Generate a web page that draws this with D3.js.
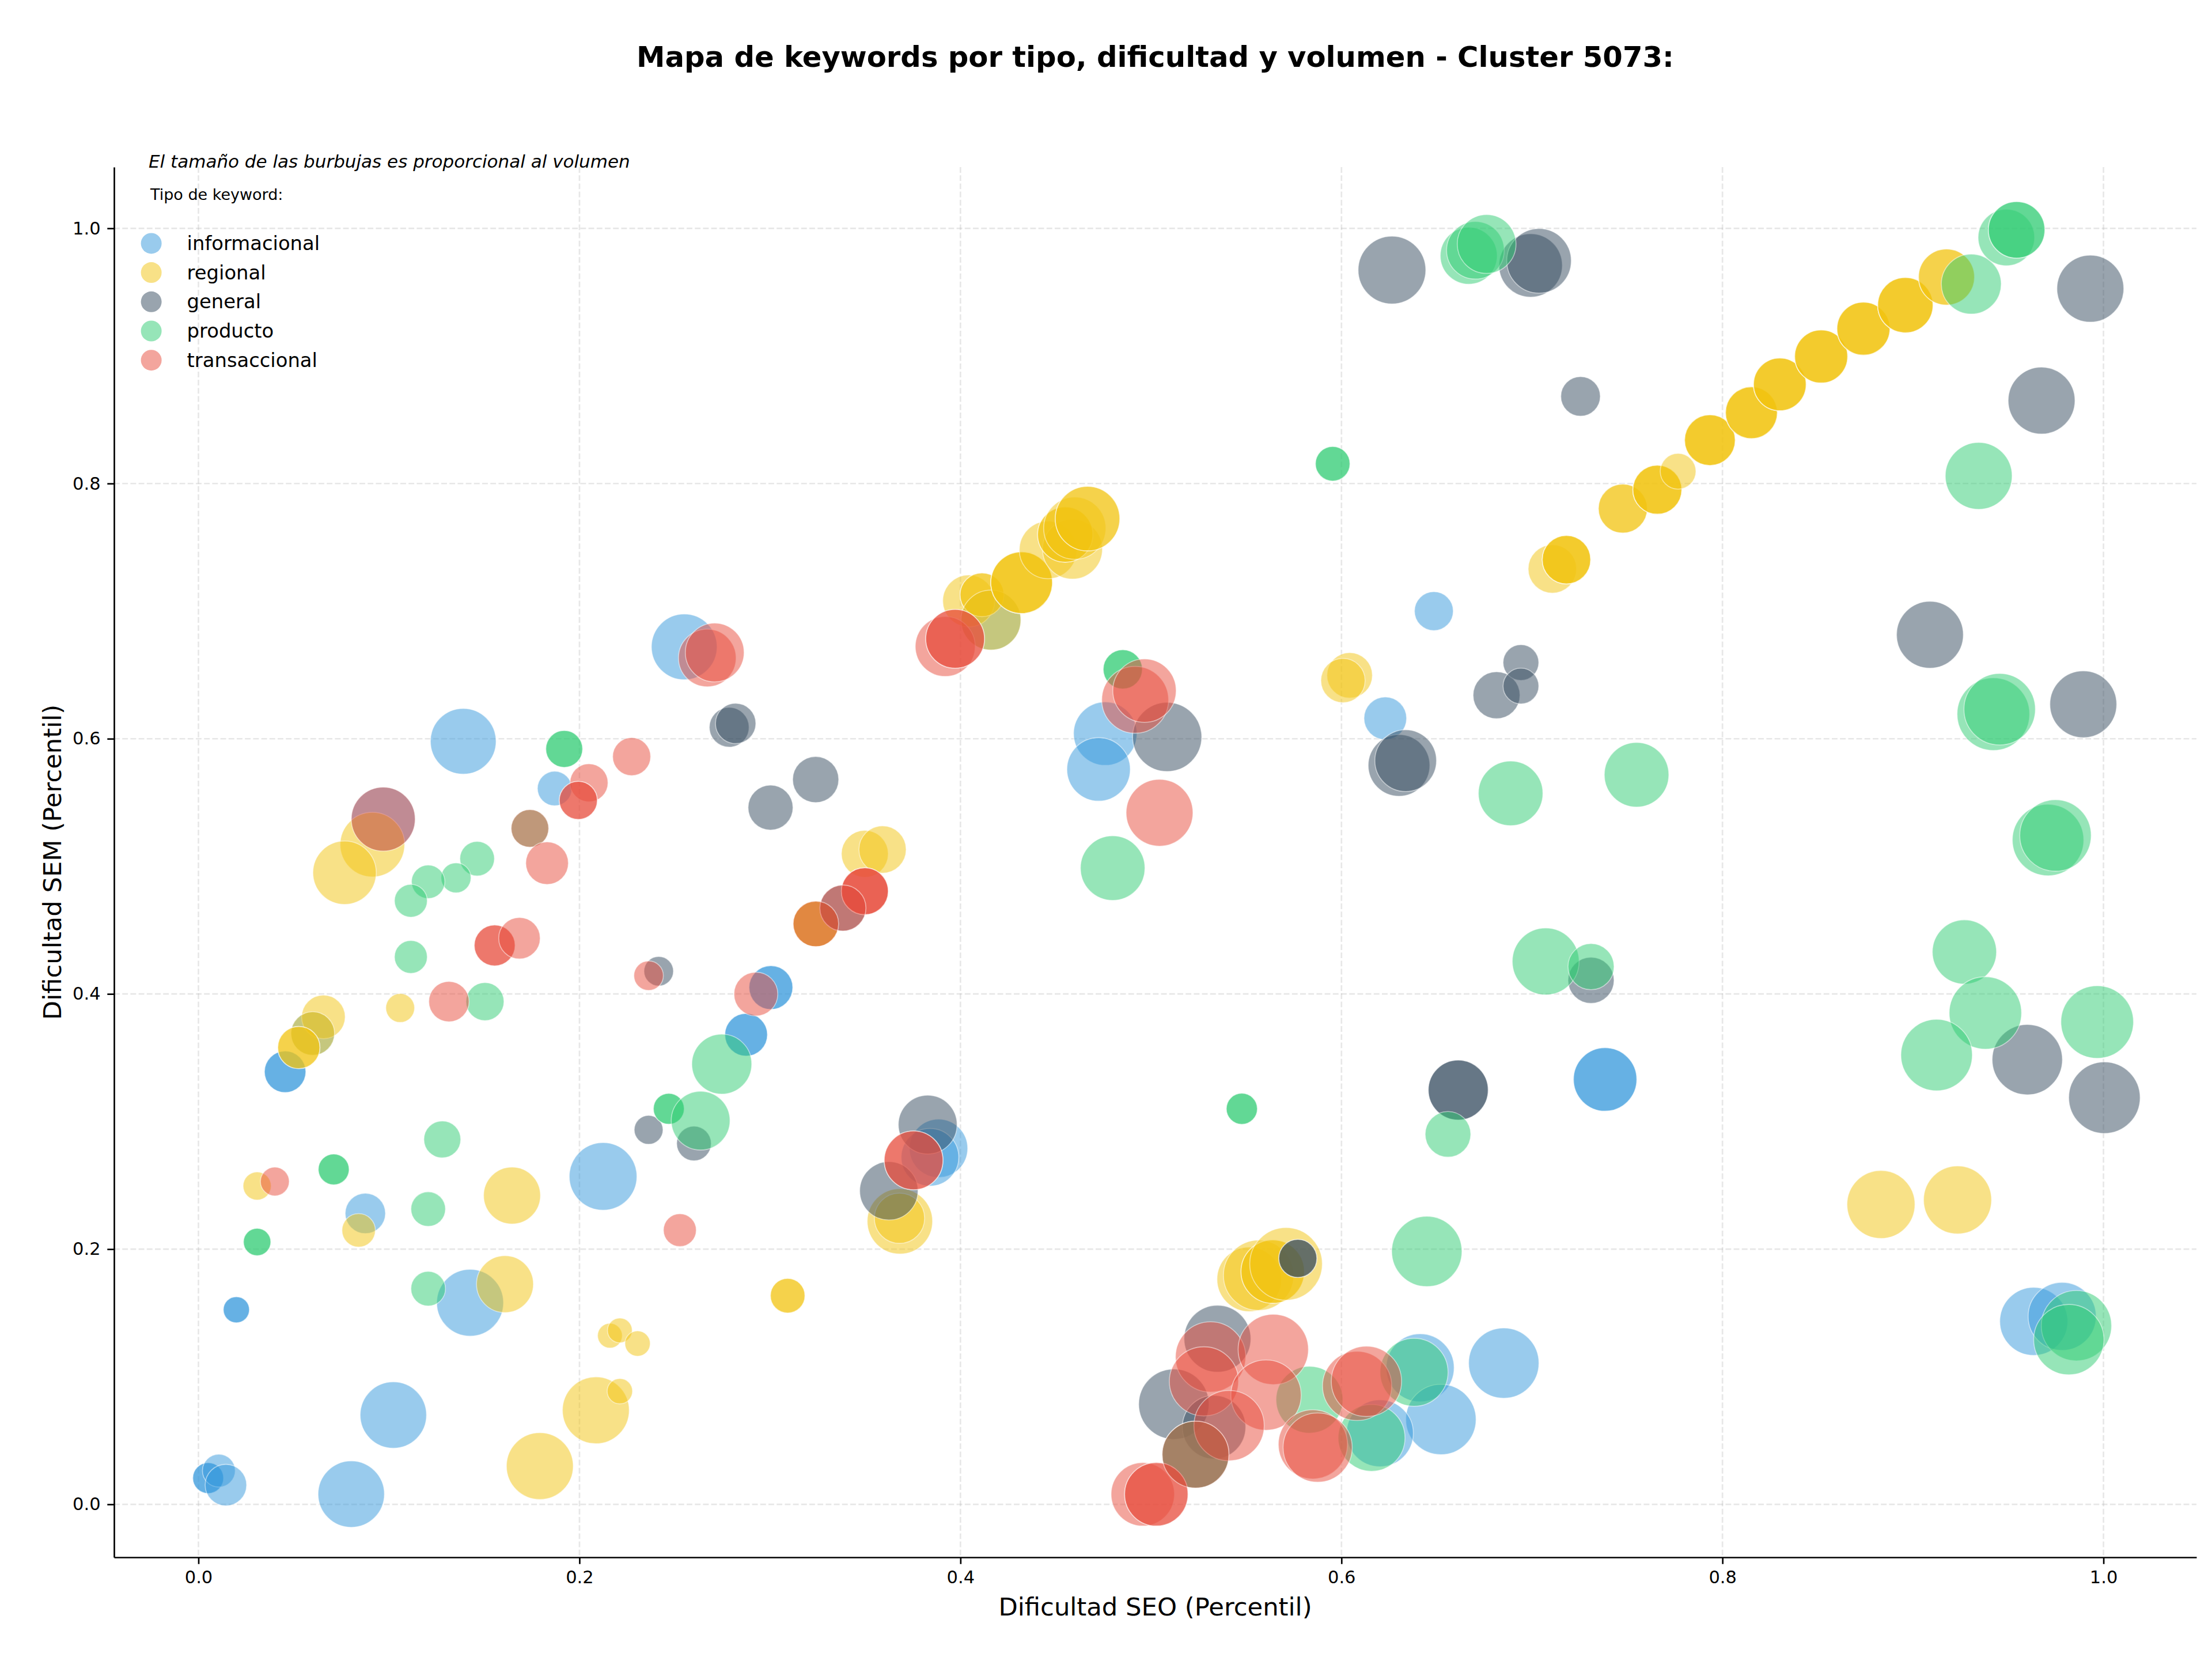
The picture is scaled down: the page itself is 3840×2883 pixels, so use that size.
<!DOCTYPE html>
<html>
<head>
<meta charset="utf-8">
<script src="https://cdn.jsdelivr.net/npm/d3@7"></script>
<style>
body { margin: 0; background: #fff; }
text { font-family: "DejaVu Sans", sans-serif; }
</style>
</head>
<body>
<svg width="3840" height="2883"></svg>
<script>
var tipos = ["informacional", "regional", "general", "producto", "transaccional"];
var colores = ["#3498db", "#f1c40f", "#34495e", "#2ecc71", "#e74c3c"];
var ticks = [0, 0.2, 0.4, 0.6, 0.8, 1.0];

// [dificultad SEO, dificultad SEM, volumen, repeticiones]
var informacional = [
  [0.139, 0.598, 3249, 1], [0.187, 0.561, 900, 1], [0.097, 0.537, 3080, 1], [0.060, 0.369, 1444, 1],
  [0.0455, 0.339, 1296, 2], [0.0876, 0.228, 1225, 1], [0.2124, 0.257, 3446, 1], [0.0199, 0.1525, 515, 2],
  [0.1426, 0.158, 3364, 1], [0.1023, 0.070, 3318, 1], [0.0802, 0.008, 3318, 1], [0.0051, 0.0206, 718, 2],
  [0.0107, 0.0264, 812, 1], [0.0144, 0.0151, 1296, 1], [0.255, 0.672, 3249, 1], [0.3005, 0.405, 1444, 2],
  [0.2875, 0.368, 1369, 2], [0.3885, 0.279, 2560, 1], [0.384, 0.272, 2500, 1], [0.416, 0.693, 2704, 1],
  [0.3241, 0.4549, 1560, 1],
  [0.476, 0.604, 3025, 1], [0.4725, 0.576, 3025, 1], [0.6485, 0.700, 1136, 1], [0.623, 0.616, 1369, 1],
  [0.7384, 0.333, 3025, 2], [0.6413, 0.107, 3481, 1], [0.6522, 0.0665, 3721, 1], [0.6852, 0.1107, 3721, 1],
  [0.6202, 0.0557, 3364, 1], [0.9634, 0.1434, 3481, 1], [0.9783, 0.1473, 3481, 1]
];
var regional = [
  [0.0913, 0.517, 3136, 1], [0.0767, 0.495, 3025, 1], [0.1059, 0.389, 625, 1], [0.0656, 0.382, 1429, 1],
  [0.060, 0.369, 1429, 1], [0.0527, 0.358, 1340, 2], [0.0308, 0.2495, 595, 1], [0.0841, 0.2147, 841, 1],
  [0.1646, 0.242, 2440, 1], [0.1609, 0.1726, 2440, 1], [0.1792, 0.030, 3364, 1], [0.2086, 0.0737, 3364, 1],
  [0.2212, 0.0887, 484, 1], [0.216, 0.1322, 462, 1], [0.2212, 0.1363, 462, 1], [0.2305, 0.126, 484, 1],
  [0.3093, 0.1635, 900, 2], [0.3498, 0.5098, 1656, 1], [0.3591, 0.5132, 1681, 1], [0.3241, 0.4549, 1560, 2],
  [0.3682, 0.2218, 3215, 1], [0.368, 0.2242, 1901, 1], [0.4043, 0.708, 2025, 1], [0.4113, 0.7128, 1444, 2],
  [0.416, 0.693, 2704, 1], [0.4321, 0.7223, 2862, 3], [0.446, 0.748, 2500, 1], [0.4588, 0.7486, 2704, 1],
  [0.455, 0.760, 2304, 2], [0.460, 0.765, 2916, 1], [0.4667, 0.7725, 3136, 2], [0.5516, 0.1764, 3136, 1],
  [0.5565, 0.1795, 3721, 1], [0.5639, 0.1824, 3025, 2], [0.5709, 0.1884, 3969, 1], [0.6043, 0.6497, 1560, 1],
  [0.6008, 0.6456, 1475, 1], [0.7107, 0.7331, 1764, 1], [0.7181, 0.7403, 1764, 3], [0.7477, 0.7804, 1806, 2],
  [0.7658, 0.7952, 1806, 3], [0.7767, 0.8096, 961, 1], [0.7934, 0.834, 1936, 3], [0.8152, 0.8555, 2025, 3],
  [0.8301, 0.8777, 2088, 3], [0.8518, 0.8996, 2116, 3], [0.874, 0.9214, 2116, 3], [0.896, 0.9398, 2304, 3],
  [0.9176, 0.9618, 2362, 2], [0.8832, 0.235, 3481, 1], [0.9234, 0.2386, 3481, 1]
];
var general = [
  [0.2786, 0.609, 1190, 1], [0.282, 0.612, 1225, 1], [0.324, 0.568, 1600, 1], [0.3003, 0.546, 1521, 1],
  [0.3383, 0.4673, 1600, 1], [0.2416, 0.4178, 655, 1], [0.2363, 0.2935, 625, 1], [0.2601, 0.2828, 900, 1],
  [0.3828, 0.2976, 2601, 1], [0.3624, 0.2457, 2560, 1], [0.5085, 0.6014, 3600, 1], [0.5771, 0.1927, 1089, 2],
  [0.5349, 0.1298, 3364, 1], [0.512, 0.0785, 3721, 1], [0.5331, 0.0605, 3025, 1], [0.5234, 0.039, 3364, 1],
  [0.6265, 0.9673, 3446, 1], [0.6993, 0.9709, 3025, 1], [0.7037, 0.9745, 3136, 1], [0.7255, 0.8683, 1176, 1],
  [0.6302, 0.5791, 2862, 1], [0.6337, 0.5828, 2862, 1], [0.6814, 0.6341, 1656, 1], [0.6942, 0.6597, 961, 1],
  [0.6942, 0.6413, 961, 1], [0.731, 0.4107, 1600, 1], [0.6613, 0.3247, 2704, 2], [0.9089, 0.6815, 3364, 1],
  [0.9931, 0.9527, 3364, 1], [0.9675, 0.865, 3364, 1], [0.9894, 0.627, 3364, 1], [0.96, 0.3485, 3721, 1],
  [1.0005, 0.3187, 3844, 1]
];
var producto = [
  [0.192, 0.592, 1024, 2], [0.174, 0.5297, 1063, 1], [0.1463, 0.506, 900, 1], [0.1352, 0.491, 676, 1],
  [0.1206, 0.4879, 841, 1], [0.1115, 0.473, 812, 1], [0.1115, 0.429, 812, 1], [0.1504, 0.394, 1089, 1],
  [0.128, 0.286, 1024, 1], [0.071, 0.2625, 718, 2], [0.1206, 0.2314, 900, 1], [0.0308, 0.2056, 566, 2],
  [0.1206, 0.169, 900, 1], [0.2747, 0.345, 2704, 1], [0.2469, 0.310, 718, 2], [0.2636, 0.3007, 2601, 1],
  [0.4852, 0.6544, 1156, 2], [0.4799, 0.4986, 3136, 1], [0.5477, 0.31, 729, 2], [0.5954, 0.8155, 900, 2],
  [0.6668, 0.9785, 2440, 1], [0.6703, 0.9828, 2500, 1], [0.6762, 0.9877, 2601, 1], [0.6888, 0.5572, 3136, 1],
  [0.7549, 0.5718, 3136, 1], [0.7072, 0.4255, 3364, 1], [0.731, 0.4214, 1600, 1], [0.6559, 0.29, 1568, 1],
  [0.6448, 0.1982, 3721, 1], [0.5234, 0.039, 3364, 1], [0.5832, 0.082, 3364, 1], [0.6381, 0.1035, 3481, 1],
  [0.6158, 0.0521, 3364, 1], [0.9306, 0.9563, 2704, 1], [0.949, 0.9928, 2401, 1], [0.9544, 0.9988, 2401, 2],
  [0.9345, 0.806, 3364, 1], [0.9422, 0.6193, 3969, 1], [0.9455, 0.6231, 3844, 1], [0.9709, 0.5206, 3844, 1],
  [0.9748, 0.5242, 3844, 1], [0.927, 0.4329, 3102, 1], [0.938, 0.3851, 3944, 1], [0.9124, 0.3521, 3844, 1],
  [0.9967, 0.378, 3969, 1], [0.9858, 0.140, 3721, 1], [0.9818, 0.1291, 3721, 1]
];
var transaccional = [
  [0.097, 0.537, 3080, 1], [0.205, 0.5655, 1089, 1], [0.1994, 0.5517, 1089, 2], [0.2274, 0.586, 1089, 1],
  [0.174, 0.5297, 1063, 1], [0.183, 0.5025, 1369, 1], [0.1555, 0.438, 1260, 2], [0.1685, 0.4437, 1296, 1],
  [0.1315, 0.394, 1225, 1], [0.0401, 0.253, 625, 1], [0.2671, 0.6633, 2500, 1], [0.271, 0.6676, 2601, 1],
  [0.3498, 0.4805, 1656, 3], [0.3383, 0.4673, 1600, 1], [0.3241, 0.4549, 1560, 1], [0.2363, 0.4143, 655, 1],
  [0.2926, 0.3999, 1444, 1], [0.2527, 0.2149, 812, 1], [0.3754, 0.2696, 2601, 2], [0.392, 0.6723, 2704, 1],
  [0.3972, 0.6783, 2601, 2], [0.4917, 0.6305, 3364, 1], [0.4966, 0.6377, 3025, 1], [0.5045, 0.542, 3364, 1],
  [0.4957, 0.0079, 3025, 1], [0.5028, 0.0079, 3025, 2], [0.5313, 0.1155, 3721, 1], [0.5278, 0.0964, 3600, 1],
  [0.5642, 0.1214, 3721, 1], [0.5604, 0.0856, 3721, 1], [0.541, 0.0617, 3721, 1], [0.5234, 0.039, 3364, 1],
  [0.585, 0.047, 3600, 1], [0.5875, 0.0445, 3600, 1], [0.6082, 0.0928, 3600, 1], [0.6131, 0.0964, 3721, 1]
];
var series = [informacional, regional, general, producto, transaccional];

var svg = d3.select("svg"),
    margin = {top: 290, right: 27, bottom: 180, left: 198},
    width = +svg.attr("width") - margin.left - margin.right,
    height = +svg.attr("height") - margin.top - margin.bottom;

var x = d3.scaleLinear().domain([-0.0443, 1.0488]).range([0, width]);
var y = d3.scaleLinear().domain([-0.0415, 1.048]).range([height, 0]);
var r = d3.scaleSqrt().domain([0, 4096]).range([0, 64]);

var g = svg.append("g").attr("transform", "translate(" + margin.left + "," + margin.top + ")");

// grid
g.selectAll(".gx").data(ticks).enter().append("line")
    .attr("x1", function(d) { return x(d); }).attr("x2", function(d) { return x(d); })
    .attr("y1", 0).attr("y2", height);
g.selectAll(".gy").data(ticks).enter().append("line")
    .attr("y1", function(d) { return y(d); }).attr("y2", function(d) { return y(d); })
    .attr("x1", 0).attr("x2", width);
g.selectAll("line")
    .attr("stroke", "#b0b0b0").attr("stroke-opacity", 0.3)
    .attr("stroke-width", 2.67).attr("stroke-dasharray", "9.9,4.3");

// bubbles, one circle per keyword
var puntos = [];
series.forEach(function(s, i) {
  s.forEach(function(p) {
    for (var k = 0; k < p[3]; k++) puntos.push({x: p[0], y: p[1], v: p[2], c: colores[i]});
  });
});

g.selectAll(".bubble")
  .data(puntos)
  .enter().append("circle")
    .attr("class", "bubble")
    .attr("cx", function(d) { return x(d.x); })
    .attr("cy", function(d) { return y(d.y); })
    .attr("r", function(d) { return r(d.v); })
    .attr("fill", function(d) { return d.c; })
    .attr("fill-opacity", 0.5)
    .attr("stroke", "#fff")
    .attr("stroke-opacity", 0.5)
    .attr("stroke-width", 1.6);

// axes
var fmt = d3.format(".1f");
var ax = g.append("g")
    .attr("transform", "translate(0," + height + ")")
    .call(d3.axisBottom(x).tickValues(ticks).tickFormat(fmt).tickSize(11.7).tickPadding(11.7).tickSizeOuter(0));
var ay = g.append("g")
    .call(d3.axisLeft(y).tickValues(ticks).tickFormat(fmt).tickSize(11.7).tickPadding(11.7).tickSizeOuter(0));
[ax, ay].forEach(function(a) {
  a.selectAll("path, line").attr("stroke", "#000").attr("stroke-width", 2.67);
  a.selectAll("text").attr("font-size", 30.5).attr("font-family", "DejaVu Sans").attr("fill", "#000");
});

// labels
svg.append("text")
    .attr("x", margin.left + width / 2).attr("y", 116)
    .attr("text-anchor", "middle").attr("font-size", 49.7).attr("font-weight", "bold")
    .text("Mapa de keywords por tipo, dificultad y volumen - Cluster 5073:");
svg.append("text")
    .attr("x", margin.left + width / 2).attr("y", 2804)
    .attr("text-anchor", "middle").attr("font-size", 43.3)
    .text("Dificultad SEO (Percentil)");
svg.append("text")
    .attr("transform", "translate(106," + (margin.top + height / 2) + ") rotate(-90)")
    .attr("text-anchor", "middle").attr("font-size", 43.3)
    .text("Dificultad SEM (Percentil)");

// legend
svg.append("text")
    .attr("x", 258).attr("y", 291)
    .attr("font-size", 31).attr("font-style", "italic")
    .text("El tamaño de las burbujas es proporcional al volumen");
svg.append("text")
    .attr("x", 261).attr("y", 347)
    .attr("font-size", 27)
    .text("Tipo de keyword:");
var leg = svg.selectAll(".leg")
  .data(tipos)
  .enter().append("g")
    .attr("class", "leg")
    .attr("transform", function(d, i) { return "translate(262.6," + (422.4 + i * 50.7) + ")"; });
leg.append("circle")
    .attr("r", 18)
    .attr("fill", function(d, i) { return colores[i]; })
    .attr("fill-opacity", 0.5);
leg.append("text")
    .attr("x", 62).attr("y", 11.5)
    .attr("font-size", 33.8)
    .text(function(d) { return d; });
</script>
</body>
</html>
